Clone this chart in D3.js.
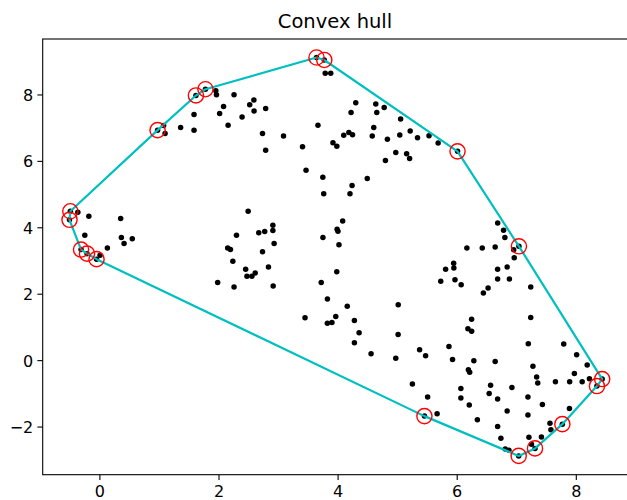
<!DOCTYPE html>
<html>
<head>
<meta charset="utf-8">
<script src="https://cdn.jsdelivr.net/npm/d3@7"></script>
<style>
body{margin:0;background:#fff}
text{font-family:'DejaVu Sans',sans-serif}
</style>
</head>
<body>
<div id="graph"></div>
<script>
var title = 'Convex hull'
var xTicks = [0, 2, 4, 6, 8]
var yTicks = [-2, 0, 2, 4, 6, 8]
var xDomain = [-0.952, 8.9]
var yDomain = [-3.45, 9.67]

// scatter points
var pointX = [
  0.977,1.078,1.103,1.364,1.589,1.589,1.621,1.781,1.955,1.966,2.261,2.085,2.019,2.161,2.396,2.524,2.594,2.597,2.792,2.739,
  2.792,3.092,3.411,3.646,3.776,3.792,3.885,3.670,3.922,3.987,4.103,4.189,4.251,4.226,4.305,4.641,4.658,4.607,4.582,4.782,
  4.836,5.058,5.044,5.219,5.342,5.535,5.688,6.014,4.803,4.977,5.159,5.209,3.470,3.752,4.498,4.243,3.767,4.208,
  -0.488,-0.502,-0.362,-0.177,-0.245,0.357,0.369,0.414,0.552,0.134,-0.308,-0.208,-0.048,0.011,
  2.498,2.302,2.154,2.201,2.241,1.986,2.261,2.456,2.478,2.561,2.616,2.739,2.676,2.776,2.913,2.913,2.934,2.839,2.918,
  3.754,3.992,4.006,4.085,4.023,3.986,3.725,3.829,4.162,5.018,3.453,4.282,3.828,3.905,3.969,4.361,4.282,4.562,5.016,4.977,
  5.377,5.478,5.256,5.512,5.458,5.671,
  6.688,6.787,6.809,7.045,6.957,6.966,6.171,6.429,6.646,5.949,5.952,5.814,5.732,5.971,6.075,6.687,6.848,6.687,6.885,6.527,
  6.448,7.243,6.250,7.243,6.188,6.251,
  5.870,5.930,6.196,6.218,6.288,6.070,6.070,6.211,6.347,6.646,6.569,6.545,6.927,6.687,6.848,6.687,6.742,6.815,6.877,7.041,
  7.202,7.280,7.342,7.361,7.196,7.439,7.196,7.213,7.423,7.255,7.315,7.658,7.897,7.797,8.014,8.191,7.976,8.107,8.229,8.443,
  8.355,7.893,7.774,7.566,7.582
]
var pointY = [
  6.926,7.062,6.821,7.008,7.394,6.926,7.970,8.157,8.109,7.994,7.991,7.641,7.430,7.071,7.324,7.689,7.831,7.505,7.575,6.826,
  6.323,6.751,6.428,9.113,9.038,8.637,8.637,7.071,6.549,6.443,6.775,6.851,6.790,7.460,7.750,7.710,7.460,7.002,6.751,7.605,
  6.652,7.258,6.781,6.896,6.694,6.754,6.540,6.287,6.012,6.253,6.217,6.075,5.719,5.508,5.469,5.258,5.011,5.011,
  4.483,4.226,4.452,4.332,3.759,4.262,3.692,3.511,3.653,3.373,3.330,3.207,3.041,3.155,
  4.483,3.759,3.376,3.330,2.980,2.335,2.199,2.733,2.528,2.528,2.627,3.261,3.834,3.870,4.060,3.900,3.511,2.802,2.235,
  3.689,3.940,3.879,4.190,3.478,2.658,2.335,1.843,1.626,1.668,1.276,1.195,1.110,1.134,1.315,0.824,0.522,0.193,0.772,0.057,
  0.314,0.133,-0.721,-1.113,-1.686,-1.617,
  4.127,3.910,3.689,3.427,3.321,3.080,3.373,3.373,3.406,2.920,2.778,2.733,2.377,2.419,2.271,2.733,2.802,2.440,2.446,2.169,
  2.024,2.199,1.234,1.285,0.944,0.869,
  0.410,0.018,-0.293,-0.365,-0.021,-0.857,-1.143,-1.354,-1.792,-0.042,-0.757,-1.008,-0.827,-1.173,-1.535,-1.997,-2.356,-2.676,-2.712,-2.884,
  0.492,-0.187,-0.510,-0.685,-1.107,-1.333,-1.650,-2.320,-2.314,-2.531,-2.658,-0.652,-0.652,0.486,0.163,-0.148,-0.404,-0.652,-0.564,-0.570,
  -0.781,-1.460,-1.928,-1.897,-2.094
]

var totalWidth = 627, totalHeight = 500
var margin = {left: 42.7, top: 39, right: -2.4, bottom: 25.3}
var width = totalWidth - margin.left - margin.right
var height = totalHeight - margin.top - margin.bottom

var svg = d3.select('#graph').append('svg')
  .attr('width', totalWidth)
  .attr('height', totalHeight)

svg.append('text')
  .text(title)
  .attr('x', 335)
  .attr('y', 28.3)
  .attr('text-anchor', 'middle')
  .attr('font-size', '19.5px')
  .attr('fill', '#000')

var g = svg.append('g')
  .attr('transform', `translate(${margin.left},${margin.top})`)

var x = d3.scaleLinear().domain(xDomain).range([0, width])
var y = d3.scaleLinear().domain(yDomain).range([height, 0])

var tickLen = 5.3
var fmt = d3.format('d')

var xAxisSel = g.append('g')
  .attr('transform', `translate(0,${height})`)
  .call(d3.axisBottom(x).tickValues(xTicks).tickFormat(fmt).tickSize(tickLen).tickPadding(6))
var yAxisSel = g.append('g')
  .call(d3.axisLeft(y).tickValues(yTicks).tickFormat(fmt).tickSize(tickLen).tickPadding(4.1))

;[xAxisSel, yAxisSel].forEach(sel => {
  sel.select('.domain').remove()
  sel.selectAll('.tick line').attr('stroke', '#000').attr('stroke-width', 1.1)
  sel.selectAll('.tick text')
    .attr('fill', '#000')
    .attr('font-size', '16px')
    .attr('font-family', "'DejaVu Sans', sans-serif")
})
yAxisSel.selectAll('.tick text').attr('dy', '0.375em')

svg.append('clipPath').attr('id', 'plot-clip')
  .append('rect').attr('width', width).attr('height', height)

var plot = g.append('g').attr('clip-path', 'url(#plot-clip)')

var points = pointX.map((d, i) => [d, pointY[i]])

plot.selectAll('circle.dot').data(points).enter().append('circle')
  .attr('class', 'dot')
  .attr('cx', d => x(d[0]))
  .attr('cy', d => y(d[1]))
  .attr('r', 2.75)
  .attr('fill', '#000')

var hull = d3.polygonHull(points)

var line = d3.line()
  .x(d => x(d[0]))
  .y(d => y(d[1]))
  .curve(d3.curveLinearClosed)

plot.append('path')
  .attr('d', line(hull))
  .attr('fill', 'none')
  .attr('stroke', '#00bfbf')
  .attr('stroke-width', 2.2)
  .attr('stroke-linejoin', 'round')

plot.selectAll('circle.vertex').data(hull).enter().append('circle')
  .attr('class', 'vertex')
  .attr('cx', d => x(d[0]))
  .attr('cy', d => y(d[1]))
  .attr('r', 7.6)
  .attr('fill', 'none')
  .attr('stroke', '#ff0000')
  .attr('stroke-width', 1.4)

// spines
g.append('rect')
  .attr('width', width)
  .attr('height', height)
  .attr('fill', 'none')
  .attr('stroke', '#000')
  .attr('stroke-width', 1.1)
</script>
</body>
</html>
